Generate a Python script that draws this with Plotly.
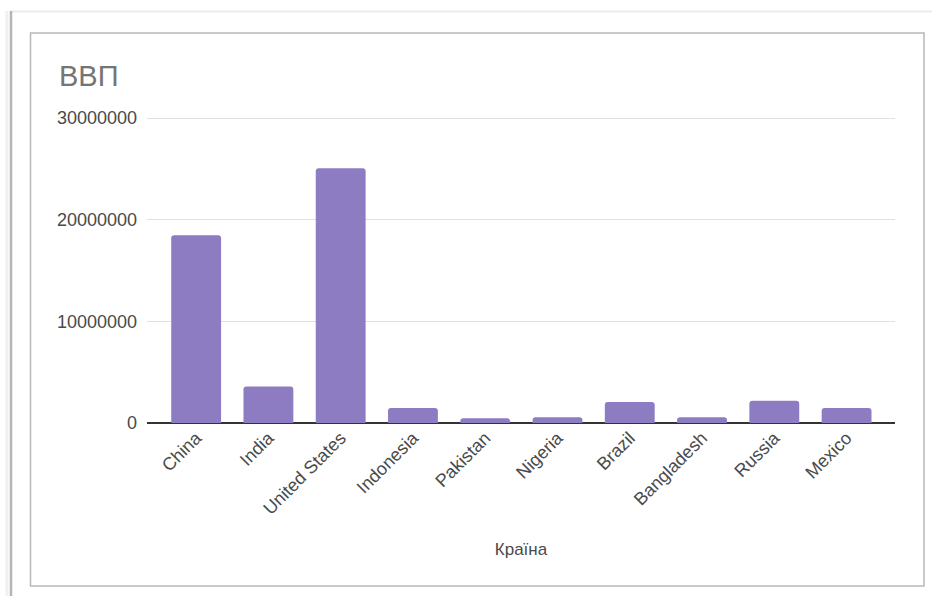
import plotly.graph_objects as go

countries = ["China", "India", "United States", "Indonesia", "Pakistan",
             "Nigeria", "Brazil", "Bangladesh", "Russia", "Mexico"]
gdp = [18460000, 3600000, 25060000, 1480000, 460000,
       560000, 2070000, 560000, 2200000, 1480000]
y_ticks = [0, 10000000, 20000000, 30000000]
y_tick_labels = ["0", "10000000", "20000000", "30000000"]

W, H = 932, 596
L, R, T, B = 147, 895, 117, 423  # plot area in pixels
Y_MAX = 30100000


def px(x):
    return (x - L) / (R - L)


def py(y):
    return (B - y) / (B - T)


fig = go.Figure(go.Bar(
    x=countries, y=gdp,
    marker=dict(color="#8e7cc3", line=dict(width=0)),
))

shapes = [
    # inner chart frame
    dict(type="rect", xref="paper", yref="paper",
         x0=px(30.5), x1=px(924), y0=py(586), y1=py(33),
         line=dict(color="#b8b8b8", width=1.5), layer="below"),
    # outer screenshot frame: top and left edges
    dict(type="line", xref="paper", yref="paper",
         x0=px(10), x1=px(932), y0=py(11.5), y1=py(11.5),
         line=dict(color="#ececec", width=2), layer="below"),
    dict(type="line", xref="paper", yref="paper",
         x0=px(7), x1=px(7), y0=py(11), y1=py(596),
         line=dict(color="#f0f0f0", width=3), layer="below"),
    dict(type="line", xref="paper", yref="paper",
         x0=px(11), x1=px(11), y0=py(11), y1=py(596),
         line=dict(color="#b5b5b5", width=2.5), layer="below"),
]

FONT = "Arial, 'Liberation Sans', sans-serif"
LABEL_COLOR = "#4a4a4a"

fig.update_layout(
    width=W, height=H,
    margin=dict(l=L, r=W - R, t=T, b=H - B, pad=0),
    paper_bgcolor="white", plot_bgcolor="white",
    font=dict(family=FONT, size=18, color=LABEL_COLOR),
    title=dict(text="ВВП", x=59 / W, xanchor="left", y=1 - 75.5 / H,
               yanchor="middle",
               font=dict(family=FONT, size=29, color="#757575")),
    bargap=0.31,
    barcornerradius=3,
    showlegend=False,
    shapes=shapes,
    xaxis=dict(
        range=[-0.68, 9.67],
        tickangle=-45,
        showgrid=False,
        showline=False,
        ticks="",
        tickfont=dict(family=FONT, size=18, color=LABEL_COLOR),
        title=dict(text="Країна", standoff=25,
                   font=dict(family=FONT, size=17, color=LABEL_COLOR)),
    ),
    yaxis=dict(
        range=[0, Y_MAX],
        tickvals=y_ticks,
        ticktext=y_tick_labels,
        showgrid=True,
        gridcolor="#e0e0e0",
        gridwidth=1.3,
        zeroline=True,
        zerolinecolor="#333333",
        zerolinewidth=1.5,
        showline=False,
        ticks="",
        ticklabelstandoff=9,
        tickfont=dict(family=FONT, size=18, color=LABEL_COLOR),
    ),
)

fig.write_html("out.html")
